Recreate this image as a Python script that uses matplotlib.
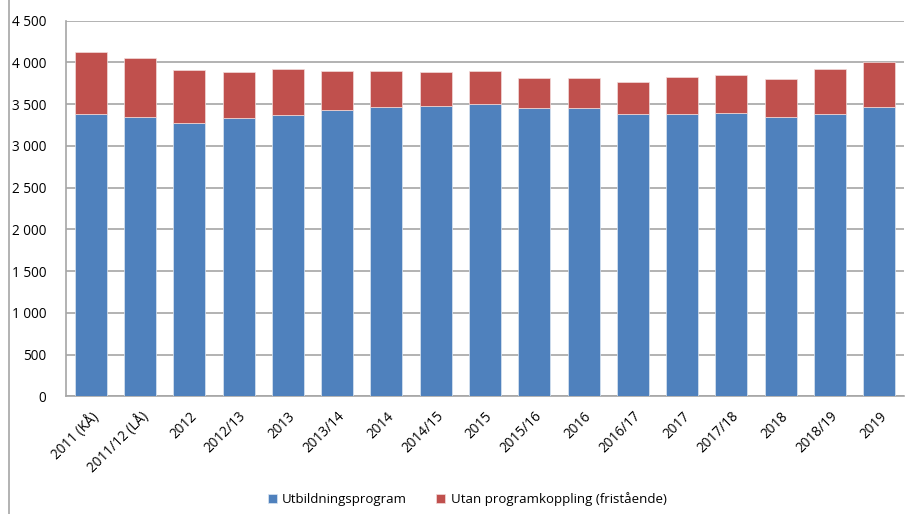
import numpy as np
import matplotlib.pyplot as plt
from matplotlib.lines import Line2D

plt.rcParams['font.family'] = ['Open Sans', 'DejaVu Sans']

# Data
categories = ['2011 (KÅ)', '2011/12 (LÅ)', '2012', '2012/13', '2013', '2013/14', '2014',
              '2014/15', '2015', '2015/16', '2016', '2016/17', '2017', '2017/18', '2018',
              '2018/19', '2019']
program = [3386, 3349, 3277, 3340, 3373, 3428, 3472, 3481, 3505, 3452, 3452, 3380,
           3388, 3400, 3349, 3388, 3472]
totals = [4125, 4056, 3909, 3885, 3916, 3900, 3900, 3885, 3892, 3816, 3816, 3765,
          3825, 3849, 3796, 3920, 4000]
fristaende = [t - p for t, p in zip(totals, program)]

blue = '#4F81BD'
red = '#C0504D'
grid_c = '#A6A6A6'

fig = plt.figure(figsize=(9.11, 5.14), dpi=100)
ax = fig.add_axes([66 / 911, 1 - 396.3 / 514, (904 - 66) / 911, (396.3 - 20.7) / 514])

x = np.arange(len(categories))
ax.bar(x, program, width=0.65, color=blue, edgecolor='#DCE6F2', linewidth=0.5,
       label='Utbildningsprogram', zorder=3)
ax.bar(x, fristaende, bottom=program, width=0.65, color=red, edgecolor='#F2DCDB',
       linewidth=0.5, label='Utan programkoppling (fristående)', zorder=3)

ax.set_xlim(-0.5, len(categories) - 0.5)
ax.set_ylim(0, 4500)
ax.set_yticks(np.arange(0, 4501, 500))
ax.set_yticklabels([f'{v:,}'.replace(',', ' ') for v in range(0, 4501, 500)])
ax.yaxis.grid(True, color=grid_c, lw=1.2, zorder=0)
ax.set_axisbelow(True)

ax.set_xticks(x)
ax.set_xticklabels(categories, rotation=45, ha='right', rotation_mode='anchor')
ax.tick_params(axis='both', length=0, labelsize=9.8, colors='#000000')
ax.tick_params(axis='y', pad=14)
ax.tick_params(axis='x', pad=9)

for s in ['top', 'right']:
    ax.spines[s].set_visible(False)
for s in ['left', 'bottom']:
    ax.spines[s].set_color(grid_c)
    ax.spines[s].set_linewidth(1.2)

# outer chart border fragment on the left
fig.add_artist(Line2D([9 / 911, 9 / 911], [0, 1], color='#A6A6A6', lw=1.2))

handles, labels = ax.get_legend_handles_labels()
fig.legend(handles, labels, loc='center', bbox_to_anchor=(467 / 911, 1 - 499 / 514),
           ncol=2, frameon=False, fontsize=9.5, handlelength=0.7, handleheight=0.7,
           columnspacing=2.2, handletextpad=0.4)

fig.savefig('out.png', dpi=100)
